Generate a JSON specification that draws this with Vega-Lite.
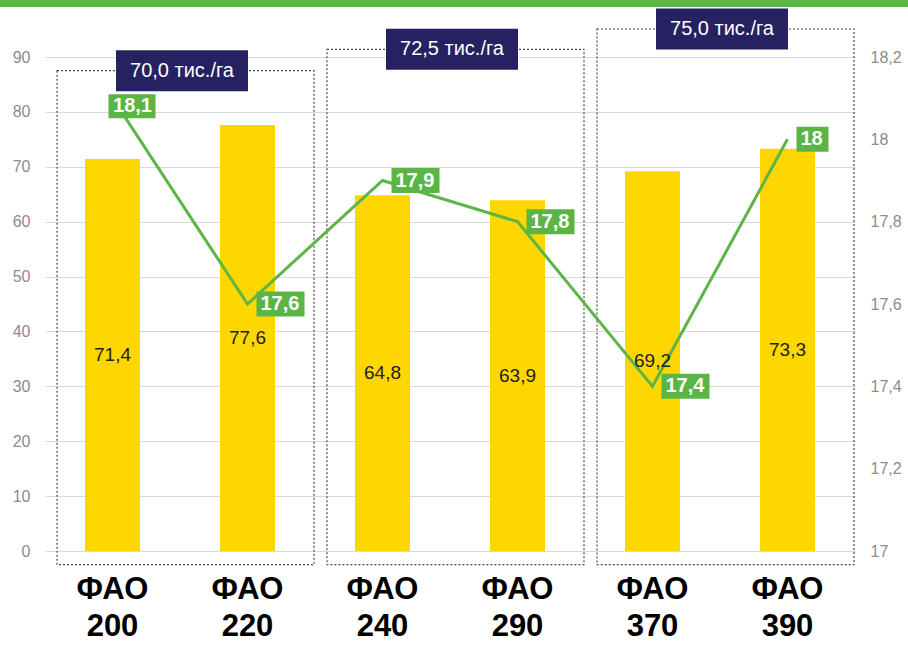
{
  "$schema": "https://vega.github.io/schema/vega-lite/v6.json",
  "width": 810,
  "height": 494,
  "autosize": {"type": "none"},
  "padding": {"left": 45, "top": 57, "right": 53, "bottom": 95},
  "background": "white",
  "config": {
    "font": "Liberation Sans",
    "view": {"stroke": null},
    "locale": {"number": {"decimal": ",", "thousands": " ", "grouping": [3], "currency": ["", ""]}},
    "axisX": {
      "labelExpr": "split(datum.label, ' ')",
      "labelFontSize": 31,
      "labelFontWeight": "bold",
      "labelColor": "#000000",
      "labelPadding": 23,
      "labelLineHeight": 37,
      "labelBaseline": "top",
      "labelAngle": 0,
      "domain": false,
      "ticks": false,
      "grid": false
    }
  },
  "datasets": {
    "main": [
      {"cat": "ФАО 200", "yield": 71.4, "moisture": 18.1},
      {"cat": "ФАО 220", "yield": 77.6, "moisture": 17.6},
      {"cat": "ФАО 240", "yield": 64.8, "moisture": 17.9},
      {"cat": "ФАО 290", "yield": 63.9, "moisture": 17.8},
      {"cat": "ФАО 370", "yield": 69.2, "moisture": 17.4},
      {"cat": "ФАО 390", "yield": 73.3, "moisture": 18.0}
    ],
    "groups": [
      {"start": "ФАО 200", "end": "ФАО 220", "density": "70,0 тис./га", "top": 87.5},
      {"start": "ФАО 240", "end": "ФАО 290", "density": "72,5 тис./га", "top": 91.4},
      {"start": "ФАО 370", "end": "ФАО 390", "density": "75,0 тис./га", "top": 95.1}
    ]
  },
  "data": {"name": "main"},
  "layer": [
    {
      "layer": [
        {
          "mark": {"type": "bar", "width": 55, "color": "#FFD700"},
          "encoding": {
            "x": {
              "field": "cat", "type": "nominal", "title": null,
              "scale": {"domain": ["ФАО 200", "ФАО 220", "ФАО 240", "ФАО 290", "ФАО 370", "ФАО 390"], "paddingInner": 0, "paddingOuter": 0}
            },
            "y": {
              "field": "yield", "type": "quantitative", "title": null,
              "scale": {"domain": [0, 90], "nice": false},
              "axis": {
                "orient": "left",
                "values": [0, 10, 20, 30, 40, 50, 60, 70, 80, 90],
                "grid": true, "gridColor": "#d9d9d9", "gridWidth": 1,
                "domain": false, "ticks": false,
                "labelColor": "#8c8c8c", "labelFontSize": 16, "labelPadding": 15
              }
            }
          }
        },
        {
          "data": {"values": [{}]},
          "mark": {"type": "rect", "color": "#5DB646", "xOffset": -45, "x2Offset": 53},
          "encoding": {
            "x": {"datum": "ФАО 200", "type": "nominal", "bandPosition": 0},
            "x2": {"datum": "ФАО 390", "bandPosition": 1},
            "y": {"datum": 100.4, "type": "quantitative"},
            "y2": {"datum": 99.1}
          }
        },
        {
          "data": {"name": "groups"},
          "mark": {"type": "rect", "fill": "white", "fillOpacity": 0, "stroke": "#4a4a4a", "strokeWidth": 1.2, "strokeDash": [2, 2], "xOffset": 12, "x2Offset": -1},
          "encoding": {
            "x": {"field": "start", "type": "nominal", "bandPosition": 0, "title": null},
            "x2": {"field": "end", "bandPosition": 1},
            "y": {"field": "top", "type": "quantitative"},
            "y2": {"datum": -2.5}
          }
        },
        {
          "data": {"name": "groups"},
          "mark": {"type": "point", "filled": true, "opacity": 1, "color": "#262262", "size": 4, "shape": "M-66,-20.5H66V20.5H-66Z", "xOffset": 2},
          "encoding": {
            "x": {"field": "end", "type": "nominal", "bandPosition": 0, "title": null},
            "y": {"field": "top", "type": "quantitative"}
          }
        },
        {
          "data": {"name": "groups"},
          "mark": {"type": "text", "color": "white", "fontSize": 20, "align": "center", "baseline": "middle", "xOffset": 2},
          "encoding": {
            "x": {"field": "end", "type": "nominal", "bandPosition": 0, "title": null},
            "y": {"field": "top", "type": "quantitative"},
            "text": {"field": "density"}
          }
        }
      ]
    },
    {
      "layer": [
        {
          "mark": {"type": "line", "color": "#5DB548", "strokeWidth": 3},
          "encoding": {
            "x": {"field": "cat", "type": "nominal", "title": null},
            "y": {
              "field": "moisture", "type": "quantitative", "title": null,
              "scale": {"domain": [17, 18.2], "nice": false, "zero": false},
              "axis": {
                "orient": "right",
                "values": [17, 17.2, 17.4, 17.6, 17.8, 18, 18.2],
                "format": ".1~f",
                "grid": false, "domain": false, "ticks": false,
                "labelColor": "#8c8c8c", "labelFontSize": 16, "labelPadding": 15
              }
            }
          }
        },
        {
          "transform": [{"filter": "datum.cat == 'ФАО 200'"}],
          "mark": {"type": "point", "filled": true, "opacity": 1, "color": "#5AB446", "size": 4, "shape": "M-4,-4H43V20H-4Z"},
          "encoding": {
            "x": {"field": "cat", "type": "nominal"},
            "y": {"field": "moisture", "type": "quantitative"}
          }
        },
        {
          "transform": [{"filter": "datum.cat == 'ФАО 200'"}],
          "mark": {"type": "text", "color": "white", "fontSize": 20, "fontWeight": "bold", "align": "center", "baseline": "middle", "dx": 20, "dy": 8},
          "encoding": {
            "x": {"field": "cat", "type": "nominal"},
            "y": {"field": "moisture", "type": "quantitative"},
            "text": {"field": "moisture", "format": ".1~f"}
          }
        },
        {
          "transform": [{"filter": "datum.cat != 'ФАО 200'"}],
          "mark": {"type": "point", "filled": true, "opacity": 1, "color": "#5AB446", "size": 4},
          "encoding": {
            "x": {"field": "cat", "type": "nominal"},
            "y": {"field": "moisture", "type": "quantitative"},
            "shape": {
              "condition": {"test": "datum.moisture == 18", "value": "M9,-12.5H41V12.5H9Z"},
              "value": "M9,-12.5H57V12.5H9Z"
            }
          }
        },
        {
          "transform": [{"filter": "datum.cat != 'ФАО 200'"}],
          "mark": {"type": "text", "color": "white", "fontSize": 20, "fontWeight": "bold", "align": "left", "baseline": "middle", "dx": 13},
          "encoding": {
            "x": {"field": "cat", "type": "nominal"},
            "y": {"field": "moisture", "type": "quantitative"},
            "text": {"field": "moisture", "format": ".1~f"}
          }
        }
      ]
    },
    {
      "mark": {"type": "text", "color": "#222222", "fontSize": 19, "align": "center", "baseline": "middle"},
      "encoding": {
        "x": {"field": "cat", "type": "nominal"},
        "y": {"field": "yield", "type": "quantitative", "scale": {"domain": [0, 180], "nice": false}, "axis": null},
        "text": {"field": "yield", "format": ".1f"}
      }
    }
  ],
  "resolve": {"scale": {"y": "independent"}}
}
